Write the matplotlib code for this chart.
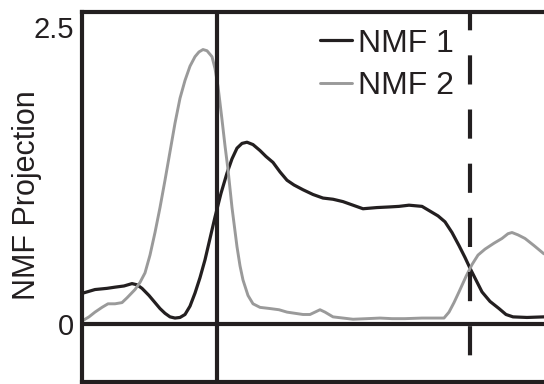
import matplotlib
matplotlib.use('Agg')
import matplotlib.pyplot as plt

# ---- data (x in arbitrary time units, y = NMF projection) ----
nmf1_x = [1, 13, 25, 33, 42, 50, 55, 60, 67, 73, 78, 83, 88, 93, 98, 103, 108, 113, 118, 123, 128,
          133, 139, 145, 150, 155, 160, 165, 171, 178, 184, 191, 198, 205, 212, 221, 231, 241, 251,
          261, 271, 281, 295, 307, 317, 327, 340, 350, 356, 363, 370, 377, 383, 388, 394, 400, 408,
          417, 424, 431, 445, 462]
nmf1_y = [0.26, 0.29, 0.30, 0.31, 0.32, 0.34, 0.33, 0.30, 0.24, 0.18, 0.13, 0.09, 0.06, 0.05, 0.055,
          0.08, 0.15, 0.26, 0.39, 0.54, 0.72, 0.90, 1.10, 1.27, 1.39, 1.48, 1.52, 1.53, 1.51, 1.46,
          1.41, 1.36, 1.28, 1.21, 1.17, 1.13, 1.09, 1.06, 1.05, 1.03, 1.00, 0.97, 0.98, 0.985, 0.99,
          1.00, 0.99, 0.94, 0.91, 0.86, 0.77, 0.66, 0.56, 0.47, 0.37, 0.27, 0.19, 0.13, 0.08, 0.06,
          0.055, 0.06]

nmf2_x = [1, 7, 13, 20, 26, 33, 40, 45, 53, 58, 63, 68, 73, 78, 83, 88, 93, 98, 103, 108, 113, 117,
          121, 125, 130, 133, 136, 140, 143, 146, 150, 155, 158, 161, 166, 171, 178, 188, 197, 205,
          213, 221, 228, 233, 238, 243, 251, 261, 271, 285, 298, 310, 323, 340, 355, 362, 367, 372,
          377, 384, 390, 396, 403, 412, 420, 426, 430, 436, 443, 452, 462]
nmf2_y = [0.03, 0.06, 0.10, 0.14, 0.17, 0.17, 0.18, 0.22, 0.29, 0.35, 0.43, 0.58, 0.77, 0.98, 1.21,
          1.45, 1.69, 1.90, 2.05, 2.17, 2.25, 2.29, 2.31, 2.30, 2.25, 2.15, 2.00, 1.72, 1.50, 1.30,
          0.98, 0.65, 0.49, 0.37, 0.24, 0.17, 0.14, 0.13, 0.12, 0.10, 0.09, 0.08, 0.08, 0.10, 0.12,
          0.10, 0.06, 0.05, 0.04, 0.045, 0.05, 0.045, 0.045, 0.05, 0.05, 0.05, 0.10, 0.18, 0.27,
          0.40, 0.50, 0.58, 0.63, 0.68, 0.72, 0.76, 0.77, 0.75, 0.72, 0.66, 0.59]

series_labels = ['NMF 1', 'NMF 2']
ytick_vals = [0, 2.5]
ytick_labels = ['0', '2.5']
y_label = 'NMF Projection'
solid_event_x = 135
dashed_event_x = 388

# ---- style ----
plt.rcParams['font.family'] = ['Liberation Sans', 'DejaVu Sans']
BLACK = '#231f20'
GRAY = '#9a9a9a'

W, H = 544, 384
fig = plt.figure(figsize=(W / 100, H / 100), dpi=100)
ax = fig.add_axes([82 / W, (H - 381.5) / H, (600 - 82) / W, (381.5 - 12) / H])

ax.plot(nmf1_x, nmf1_y, color=BLACK, lw=2.3, label=series_labels[0],
        solid_joinstyle='round', solid_capstyle='round')
ax.plot(nmf2_x, nmf2_y, color=GRAY, lw=2.1, label=series_labels[1],
        solid_joinstyle='round', solid_capstyle='round')

ax.axhline(0, color=BLACK, lw=3)
ax.axvline(solid_event_x, color=BLACK, lw=3)
ax.axvline(dashed_event_x, ymin=1, ymax=0, color=BLACK, lw=3,
           linestyle=(2.6, (7, 6)))

ax.set_xlim(0, 518)
ax.set_ylim(-0.484, 2.626)
ax.set_xticks([])
ax.set_yticks(ytick_vals)
ax.set_yticklabels(ytick_labels)
ax.tick_params(axis='y', length=0, pad=6, labelsize=21, labelcolor=BLACK)

for side in ['left', 'top', 'bottom']:
    ax.spines[side].set_linewidth(3)
    ax.spines[side].set_color(BLACK)
ax.spines['right'].set_visible(False)

fig.text(35.3 / W, (H - 195) / H, y_label, rotation=90, rotation_mode='anchor',
         ha='center', va='baseline', fontsize=22, color=BLACK)

leg = ax.legend(loc='upper left', bbox_to_anchor=(320 / W, (H - 28.5) / H),
                bbox_transform=fig.transFigure, borderpad=0, borderaxespad=0,
                handlelength=1.0, handletextpad=0.2, labelspacing=0.4,
                frameon=False, fontsize=23)
for t in leg.get_texts():
    t.set_color(BLACK)

fig.savefig('out.png', dpi=100)
